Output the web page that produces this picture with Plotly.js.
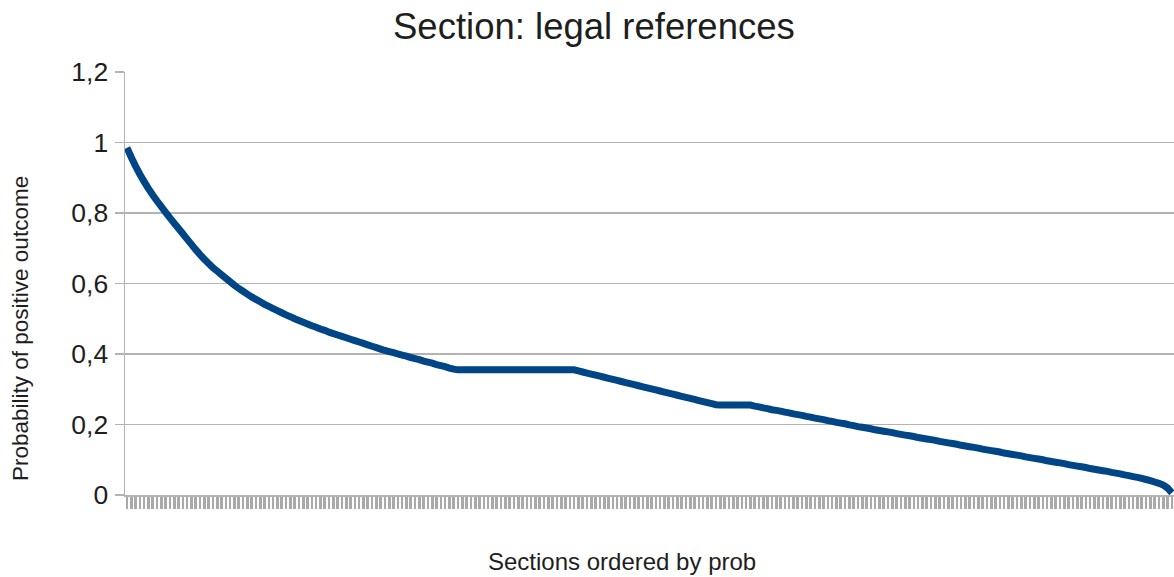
<!DOCTYPE html>
<html>
<head>
<meta charset="utf-8">
<script src="https://cdn.plot.ly/plotly-3.0.1.min.js"></script>
<style>html,body{margin:0;padding:0;background:#fff;}#chart{width:1174px;height:577px;}</style>
</head>
<body>
<div id="chart"></div>
<script>
// Probability of positive outcome, sections ordered by probability
var probHead = [
  0.985, 0.958, 0.933, 0.910, 0.889, 0.869, 0.851, 0.834, 0.818, 0.802,
  0.786, 0.771, 0.756, 0.741, 0.726, 0.711, 0.696, 0.682, 0.669, 0.657,
  0.645, 0.635, 0.625, 0.615, 0.605, 0.595, 0.586, 0.578, 0.570, 0.562,
  0.555, 0.548, 0.541, 0.535, 0.529, 0.523, 0.517, 0.511, 0.506, 0.500,
  0.495, 0.490, 0.485, 0.480, 0.476, 0.471, 0.467, 0.462, 0.458, 0.454,
  0.450, 0.446, 0.442, 0.438, 0.434, 0.430, 0.426, 0.422, 0.418, 0.414,
  0.410, 0.407, 0.404, 0.400, 0.397, 0.394, 0.390, 0.387, 0.384, 0.380,
  0.377, 0.374, 0.370, 0.367, 0.364, 0.360, 0.357
];
var probPlateau1 = [
  0.355, 0.355, 0.355, 0.355, 0.355, 0.355, 0.355, 0.355, 0.355, 0.355,
  0.355, 0.355, 0.355, 0.355, 0.355, 0.355, 0.355, 0.355, 0.355, 0.355,
  0.355, 0.355, 0.355, 0.355, 0.355, 0.355, 0.355, 0.355
];
var probMiddle = [
  0.352, 0.349, 0.346, 0.343, 0.340, 0.337, 0.334, 0.331, 0.328, 0.325,
  0.322, 0.319, 0.316, 0.313, 0.310, 0.307, 0.304, 0.301, 0.298, 0.295,
  0.292, 0.289, 0.286, 0.283, 0.280, 0.277, 0.274, 0.271, 0.268, 0.265,
  0.262, 0.259, 0.256
];
var probPlateau2 = [0.255, 0.255, 0.255, 0.255, 0.255, 0.255, 0.255, 0.255];
var probTail = [
  0.252, 0.250, 0.247, 0.245, 0.242, 0.240, 0.238, 0.235, 0.233, 0.230,
  0.228, 0.226, 0.223, 0.221, 0.218, 0.216, 0.214, 0.211, 0.209, 0.206,
  0.204, 0.202, 0.199, 0.197, 0.194,
  0.192, 0.190, 0.188, 0.185, 0.183, 0.181, 0.179, 0.177, 0.174, 0.172,
  0.170, 0.168, 0.166, 0.163, 0.161, 0.159, 0.157, 0.155, 0.152, 0.150,
  0.148, 0.146, 0.144, 0.141, 0.139, 0.137, 0.135, 0.133, 0.130, 0.128,
  0.126, 0.124, 0.122, 0.119, 0.117, 0.115, 0.113, 0.111, 0.108, 0.106,
  0.104, 0.102, 0.100, 0.097, 0.095, 0.093, 0.091, 0.089, 0.086, 0.084,
  0.082, 0.080, 0.078, 0.075, 0.073, 0.071, 0.069, 0.067, 0.064, 0.062,
  0.060, 0.057, 0.055, 0.052, 0.050,
  0.047, 0.044, 0.041, 0.037, 0.033, 0.028, 0.020, 0.006
];
var probValues = probHead.concat(probPlateau1, probMiddle, probPlateau2, probTail);
var sections = probValues.map(function (v, i) { return i; });
var yTickValues = [0, 0.2, 0.4, 0.6, 0.8, 1, 1.2];

var chartTitle = 'Section: legal references';
var xTitle = 'Sections ordered by prob';
var yTitle = 'Probability of positive outcome';

var font = 'Liberation Sans, Arial, sans-serif';
var textColor = '#1e1e1e';
var gridColor = '#b3b3b3';

var trace = {
  x: sections,
  y: probValues,
  type: 'scatter',
  mode: 'lines',
  line: {color: '#004586', width: 7, simplify: false},
  hoverinfo: 'y'
};

var layout = {
  width: 1174,
  height: 577,
  margin: {l: 125, r: 0, t: 72, b: 82, pad: 0},
  paper_bgcolor: '#ffffff',
  plot_bgcolor: '#ffffff',
  separators: ', ',
  showlegend: false,
  font: {family: font, color: textColor},
  xaxis: {
    range: [-0.45, sections.length - 0.5],
    tickmode: 'linear',
    tick0: 0,
    dtick: 1,
    ticks: 'outside',
    ticklen: 12,
    tickwidth: 2.6,
    tickcolor: '#a9a9a9',
    showticklabels: false,
    showgrid: false,
    zeroline: false,
    showline: true,
    linecolor: gridColor,
    linewidth: 1.5
  },
  yaxis: {
    range: [0, 1.2],
    tickmode: 'array',
    tickvals: yTickValues,
    ticks: 'outside',
    ticklen: 9,
    tickwidth: 1.5,
    tickcolor: gridColor,
    ticklabelstandoff: 1,
    tickfont: {size: 26.5, family: font, color: textColor},
    showgrid: true,
    gridcolor: gridColor,
    gridwidth: 1.5,
    zeroline: false,
    showline: true,
    linecolor: gridColor,
    linewidth: 1.5
  },
  annotations: [
    {
      text: chartTitle, xref: 'paper', yref: 'paper',
      x: (594 - 125) / 1049, y: (495 - 27) / 423,
      xanchor: 'center', yanchor: 'middle', showarrow: false,
      font: {size: 36.5, family: font, color: textColor}
    },
    {
      text: xTitle, xref: 'paper', yref: 'paper',
      x: (622 - 125) / 1049, y: (495 - 561) / 423,
      xanchor: 'center', yanchor: 'middle', showarrow: false,
      font: {size: 24, family: font, color: textColor}
    },
    {
      text: yTitle, xref: 'paper', yref: 'paper', textangle: -90,
      x: (20 - 125) / 1049, y: (495 - 329) / 423,
      xanchor: 'center', yanchor: 'middle', showarrow: false,
      font: {size: 22.5, family: font, color: textColor}
    }
  ]
};

Plotly.newPlot('chart', [trace], layout, {displayModeBar: false, staticPlot: true});
</script>
</body>
</html>
